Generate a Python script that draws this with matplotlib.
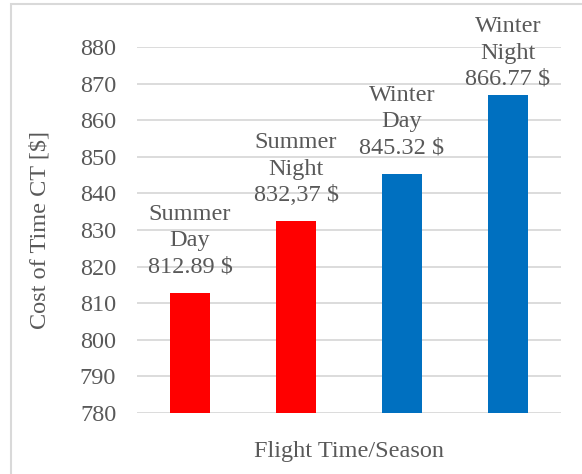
import matplotlib.pyplot as plt
from matplotlib.patches import Rectangle

categories = ['Summer\nDay', 'Summer\nNight', 'Winter\nDay', 'Winter\nNight']
costs = [812.89, 832.37, 845.32, 866.77]
value_text = ['812.89 $', '832,37 $', '845.32 $', '866.77 $']
colors = ['#ff0000', '#ff0000', '#0070c0', '#0070c0']
y_ticks = list(range(780, 881, 10))
label_gap = [11, 11, 11, 4]  # points above bar top

grey = '#595959'
plt.rcParams['font.family'] = ['Liberation Serif', 'DejaVu Serif']

fig = plt.figure(figsize=(5.82, 4.74), dpi=100)
ax = fig.add_axes([137 / 582, 1 - 413 / 474, 424 / 582, 366 / 474])

x = range(len(costs))
ax.bar(x, costs, width=0.37, color=colors, zorder=3)
ax.set_xlim(-0.5, 3.5)
ax.set_ylim(780, 880)
ax.set_yticks(y_ticks)
ax.set_yticklabels([str(t) for t in y_ticks], fontfamily='Liberation Serif')
ax.set_xticks([])
ax.tick_params(axis='y', length=0, labelsize=17.5, labelcolor=grey, pad=15)
ax.grid(axis='y', color='#d9d9d9', linewidth=1.3, zorder=0)
for s in ax.spines.values():
    s.set_visible(False)

for xi, c, cat, txt, g in zip(x, costs, categories, value_text, label_gap):
    ax.annotate(cat + '\n' + txt, (xi, c), xytext=(0, g), textcoords='offset points',
                ha='center', va='bottom', fontsize=17.5, color=grey,
                linespacing=1.33, zorder=4)

fig.text(40 / 582, 1 - 230 / 474, 'Cost of Time CT [$]', rotation=90,
         ha='center', va='center', fontsize=17.5, color=grey)
fig.text(349 / 582, 1 - 452 / 474, 'Flight Time/Season',
         ha='center', va='center', fontsize=17.5, color=grey)

# chart frame
fig.patches.append(Rectangle((11 / 582, -0.05), 1.1, 1 - 4 / 474 + 0.05,
                             transform=fig.transFigure, fill=False,
                             edgecolor='#d9d9d9', linewidth=1.5))

fig.savefig('out.png', dpi=100)
